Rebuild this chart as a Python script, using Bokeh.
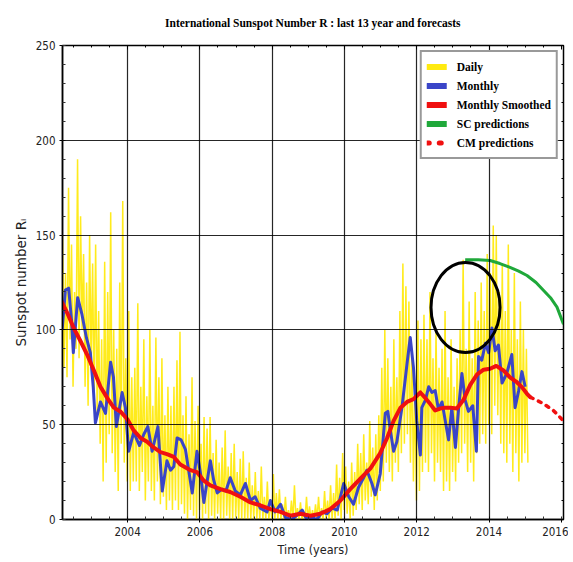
import numpy as np
from bokeh.plotting import figure
from bokeh.models import FixedTicker, Legend, LegendItem, LinearAxis, CustomJSTickFormatter
from bokeh.embed import file_html
from bokeh.resources import INLINE

# ---------------- data ----------------
title_text = "International Sunspot Number R : last 13 year and forecasts"
x_ticks = [2004, 2006, 2008, 2010, 2012, 2014, 2016]
x_grid_ticks = [2004, 2006, 2008, 2010, 2012, 2014]
y_ticks = [0, 50, 100, 150, 200, 250]
y_grid_ticks = [50, 100, 150, 200]

# daily values, half-month sampling starting 2002.2
daily_start = 2002.2
daily_step = 1.0 / 24
daily_values = [
    150, 80, 130, 75, 175, 95, 145, 70, 120, 90, 190, 85, 160, 100, 140, 70, 125, 60, 150, 80, 135, 60, 145, 55,
    110, 40, 95, 20, 136, 30, 120, 45, 162, 35, 100, 25, 90, 15, 125, 40, 168, 30, 85, 20, 110, 15, 75, 20,
    80, 20, 114, 15, 70, 25, 95, 10, 65, 20, 100, 15, 60, 10, 96, 20, 75, 8, 85, 12, 55, 5, 70, 10,
    60, 5, 70, 10, 84, 5, 99, 8, 55, 3, 65, 0, 45, 5, 75, 2, 52, 0, 60, 5, 40, 0, 54, 3,
    48, 0, 54, 2, 35, 0, 42, 3, 30, 0, 38, 0, 47, 2, 28, 0, 35, 0, 40, 1, 25, 0, 32, 0,
    36, 0, 22, 0, 30, 0, 18, 0, 25, 0, 15, 0, 28, 0, 12, 0, 20, 0, 10, 0, 24, 0, 14, 0,
    16, 0, 8, 0, 12, 0, 5, 0, 10, 0, 18, 0, 6, 0, 9, 0, 4, 0, 12, 0, 7, 0, 5, 0,
    8, 0, 12, 0, 6, 0, 15, 0, 10, 0, 18, 0, 14, 0, 29, 2, 22, 0, 35, 5, 28, 3, 20, 0,
    30, 2, 25, 5, 40, 8, 35, 5, 45, 10, 30, 8, 52, 12, 38, 5, 45, 10, 55, 15, 80, 20, 100, 30,
    85, 25, 70, 20, 95, 30, 75, 25, 110, 35, 135, 40, 123, 45, 115, 30, 90, 20, 70, 10, 105, 15, 95, 25,
    108, 30, 95, 25, 120, 35, 85, 20, 100, 30, 80, 25, 90, 15, 110, 20, 75, 15, 95, 25, 70, 20, 85, 30,
    100, 35, 137, 40, 90, 25, 115, 30, 85, 20, 120, 35, 105, 40, 125, 45, 110, 40, 140, 50, 130, 45, 155, 60,
    150, 55, 120, 40, 135, 35, 110, 30, 145, 40, 100, 25, 130, 35, 95, 20, 115, 30, 100, 35, 90, 30,
]

monthly_years = [
    2002.19, 2002.28, 2002.37, 2002.45, 2002.50, 2002.62, 2002.74, 2002.86, 2002.97, 2003.05,
    2003.11, 2003.25, 2003.39, 2003.53, 2003.61, 2003.69, 2003.85, 2003.94, 2004.03, 2004.17,
    2004.33, 2004.45, 2004.56, 2004.68, 2004.84, 2004.96, 2005.09, 2005.19, 2005.28, 2005.37,
    2005.48, 2005.60, 2005.69, 2005.79, 2005.92, 2006.02, 2006.11, 2006.29, 2006.38, 2006.48,
    2006.61, 2006.72, 2006.84, 2006.98, 2007.12, 2007.26, 2007.40, 2007.53, 2007.67, 2007.86,
    2007.95, 2008.08, 2008.23, 2008.37, 2008.55, 2008.73, 2008.83, 2008.96, 2009.10, 2009.24,
    2009.38, 2009.52, 2009.66, 2009.80, 2009.98, 2010.12, 2010.25, 2010.39, 2010.53, 2010.62,
    2010.76, 2010.85, 2010.99, 2011.13, 2011.20, 2011.27, 2011.36, 2011.45, 2011.59, 2011.73,
    2011.82, 2011.91, 2012.00, 2012.10, 2012.14, 2012.24, 2012.33, 2012.42, 2012.51, 2012.60,
    2012.70, 2012.79, 2012.88, 2012.97, 2013.07, 2013.16, 2013.25, 2013.34, 2013.43, 2013.55,
    2013.65, 2013.71, 2013.80, 2013.90, 2013.99, 2014.08, 2014.17, 2014.26, 2014.36, 2014.49,
    2014.63, 2014.72, 2014.82, 2014.91, 2015.00,
]
monthly_values = [
    100, 121, 122, 105, 88, 117, 108, 96, 88, 70,
    51, 62, 56, 83, 75, 49, 67, 59, 36, 46,
    39, 45, 49, 36, 49, 15, 31, 26, 28, 43,
    42, 37, 26, 14, 36, 24, 9, 31, 21, 14,
    16, 15, 22, 15, 13, 19, 10, 12, 6, 4,
    10, 4, 8, 1, 0, 3, 5, 0, 1, 0,
    4, 3, 6, 5, 19, 12, 8, 17, 22, 26,
    19, 13, 24, 56, 57, 47, 36, 41, 59, 82,
    96, 80, 52, 34, 59, 63, 70, 67, 68, 58,
    62, 52, 42, 59, 38, 59, 77, 63, 57, 60,
    36, 86, 84, 93, 88, 101, 89, 92, 72, 77,
    87, 59, 68, 78, 70,
]

smoothed_years = [
    2002.15, 2002.33, 2002.51, 2002.70, 2002.88, 2003.06, 2003.25, 2003.44, 2003.62, 2003.80,
    2003.99, 2004.17, 2004.36, 2004.54, 2004.72, 2004.91, 2005.09, 2005.28, 2005.46, 2005.74,
    2005.92, 2006.11, 2006.29, 2006.57, 2006.84, 2007.12, 2007.40, 2007.67, 2007.95, 2008.23,
    2008.50, 2008.78, 2009.06, 2009.33, 2009.61, 2009.89, 2010.16, 2010.44, 2010.72, 2010.99,
    2011.18, 2011.36, 2011.55, 2011.73, 2011.91, 2012.10, 2012.24, 2012.37, 2012.51, 2012.65,
    2012.79, 2012.93, 2013.11, 2013.29, 2013.48, 2013.67, 2013.85, 2014.03, 2014.20, 2014.40,
    2014.58, 2014.77, 2014.91, 2015.05, 2015.14,
]
smoothed_values = [
    116, 109, 101, 94, 87, 79, 70, 64, 59, 57,
    53, 47, 43, 41, 38, 35.5, 34.5, 33, 29, 26,
    25, 20.5, 18, 16, 14.5, 12, 9, 7.5, 5.5, 4,
    2, 3, 2, 3, 5.5, 10, 16, 21.5, 27, 35,
    43, 52, 59, 62, 63.5, 67, 64, 61, 57.5, 58.5,
    59, 59, 58.5, 63, 71, 76.5, 79, 79.5, 81, 78.6,
    75, 72.4, 69.8, 66.3, 64.5,
]

sc_years = [2013.34, 2013.70, 2014.03, 2014.30, 2014.58, 2014.82, 2015.05, 2015.30, 2015.51, 2015.70, 2015.88, 2016.06]
sc_values = [137, 137, 136.6, 135, 133, 131, 128.7, 125, 120.8, 117, 112, 103]

cm_years = [2015.14, 2015.23, 2015.51, 2015.78, 2016.06]
cm_values = [64.5, 63.7, 61, 57.5, 52]

circle_x = [2013.35]
circle_y = [111.8]
circle_w = [1.91]
circle_h = [47.5]

# ---------------- styles ----------------
YELLOW = "#ffea10"
BLUE = "#3a45c8"
RED = "#f01010"
GREEN = "#1fa83a"
TICK_FONT = "'DejaVu Sans Condensed', 'DejaVu Sans'"
NAN = [float("nan")]

daily_x = daily_start + np.arange(len(daily_values)) * daily_step

p = figure(width=568, height=560, x_range=(2002.2, 2016.06), y_range=(0, 250),
           title=None, output_backend="svg", toolbar_location=None,
           min_border_left=62, min_border_right=5, min_border_top=45, min_border_bottom=41,
           background_fill_color="white", border_fill_color="white",
           outline_line_color="black", outline_line_width=1.5)

xticker = FixedTicker(ticks=x_ticks, minor_ticks=list(np.arange(2002.5, 2016.01, 0.5)))
yticker = FixedTicker(ticks=y_ticks, minor_ticks=list(range(0, 251, 10)))

xa = p.xaxis[0]
xa.ticker = xticker
xa.axis_label = "Time (years)"
ya = p.yaxis[0]
ya.ticker = yticker
ya.axis_label = "Sunspot number R\u1d62"

for ax in (xa, ya):
    ax.axis_line_color = "black"
    ax.axis_line_width = 1.5
    ax.major_tick_in = 0
    ax.major_tick_out = 3
    ax.minor_tick_in = 3
    ax.minor_tick_out = 0
    ax.major_tick_line_color = "black"
    ax.minor_tick_line_color = "#333333"
    ax.major_label_text_font = TICK_FONT
    ax.major_label_text_font_size = "11.5px"
    ax.major_label_text_color = "#222222"
    ax.axis_label_text_font_style = "normal"
    ax.axis_label_text_color = "#222222"
    ax.major_label_standoff = 4
    ax.axis_label_standoff = 3

xa.axis_label_text_font = TICK_FONT
xa.axis_label_text_font_size = "12.5px"
ya.axis_label_text_font = "DejaVu Sans"
ya.axis_label_text_font_size = "13.5px"
ya.axis_label_standoff = 4

blank = CustomJSTickFormatter(code="return '';")
# top axis carries the chart title as its label
top_ax = LinearAxis(ticker=xticker, formatter=blank, major_tick_in=4, major_tick_out=0,
                    minor_tick_in=2, minor_tick_out=0, axis_line_color="black",
                    major_label_standoff=0, major_label_text_font_size="0px",
                    axis_label=title_text, axis_label_standoff=17,
                    axis_label_text_font="Liberation Serif", axis_label_text_font_style="bold",
                    axis_label_text_font_size="11.5px", axis_label_text_color="black")
right_ax = LinearAxis(ticker=yticker, formatter=blank, major_tick_in=4, major_tick_out=0,
                      minor_tick_in=2, minor_tick_out=0, axis_line_color="black",
                      major_label_standoff=0, major_label_text_font_size="0px")
p.add_layout(top_ax, "above")
p.add_layout(right_ax, "right")

p.xgrid.ticker = FixedTicker(ticks=x_grid_ticks)
p.ygrid.ticker = FixedTicker(ticks=y_grid_ticks)
for g in (p.xgrid[0], p.ygrid[0]):
    g.grid_line_color = "black"
    g.grid_line_width = 1.2
    g.grid_line_alpha = 0.85
    g.level = "overlay"

# ---------------- marks ----------------
p.line(daily_x, daily_values, color=YELLOW, line_width=1.5, line_alpha=0.95)
p.line(monthly_years, monthly_values, color=BLUE, line_width=3, line_join="round")
p.line(smoothed_years, smoothed_values, color=RED, line_width=4, line_join="round", line_cap="round")
p.line(sc_years, sc_values, color=GREEN, line_width=3)
p.line(cm_years, cm_values, color=RED, line_width=3.5, line_dash="3 6", line_cap="round")
p.ellipse(x=circle_x, y=circle_y, width=circle_w, height=circle_h,
          fill_color=None, line_color="black", line_width=3)

# legend proxies (no visible data, only for legend glyphs)
lg_daily = p.line(x=NAN, y=NAN, color=YELLOW, line_width=6, line_cap="round")
lg_month = p.line(x=NAN, y=NAN, color=BLUE, line_width=6, line_cap="round")
lg_smooth = p.line(x=NAN, y=NAN, color=RED, line_width=6, line_cap="round")
lg_sc = p.line(x=NAN, y=NAN, color=GREEN, line_width=6, line_cap="round")
lg_cm = p.line(x=NAN, y=NAN, color=RED, line_width=5, line_dash="2 10", line_cap="round")

legend = Legend(items=[
    LegendItem(label="Daily", renderers=[lg_daily]),
    LegendItem(label="Monthly", renderers=[lg_month]),
    LegendItem(label="Monthly Smoothed", renderers=[lg_smooth]),
    LegendItem(label="SC predictions", renderers=[lg_sc]),
    LegendItem(label="CM predictions", renderers=[lg_cm]),
], location="top_right")
legend.margin = 5
legend.padding = 5
legend.spacing = 0
legend.glyph_width = 20
legend.glyph_height = 19
legend.label_height = 19
legend.label_standoff = 10
legend.label_text_font = "Liberation Serif"
legend.label_text_font_style = "bold"
legend.label_text_font_size = "11.5px"
legend.label_text_color = "black"
legend.border_line_color = "#333333"
legend.border_line_width = 2
legend.background_fill_color = "white"
legend.background_fill_alpha = 1
p.add_layout(legend)

open("out.html", "w").write(file_html(p, INLINE))
